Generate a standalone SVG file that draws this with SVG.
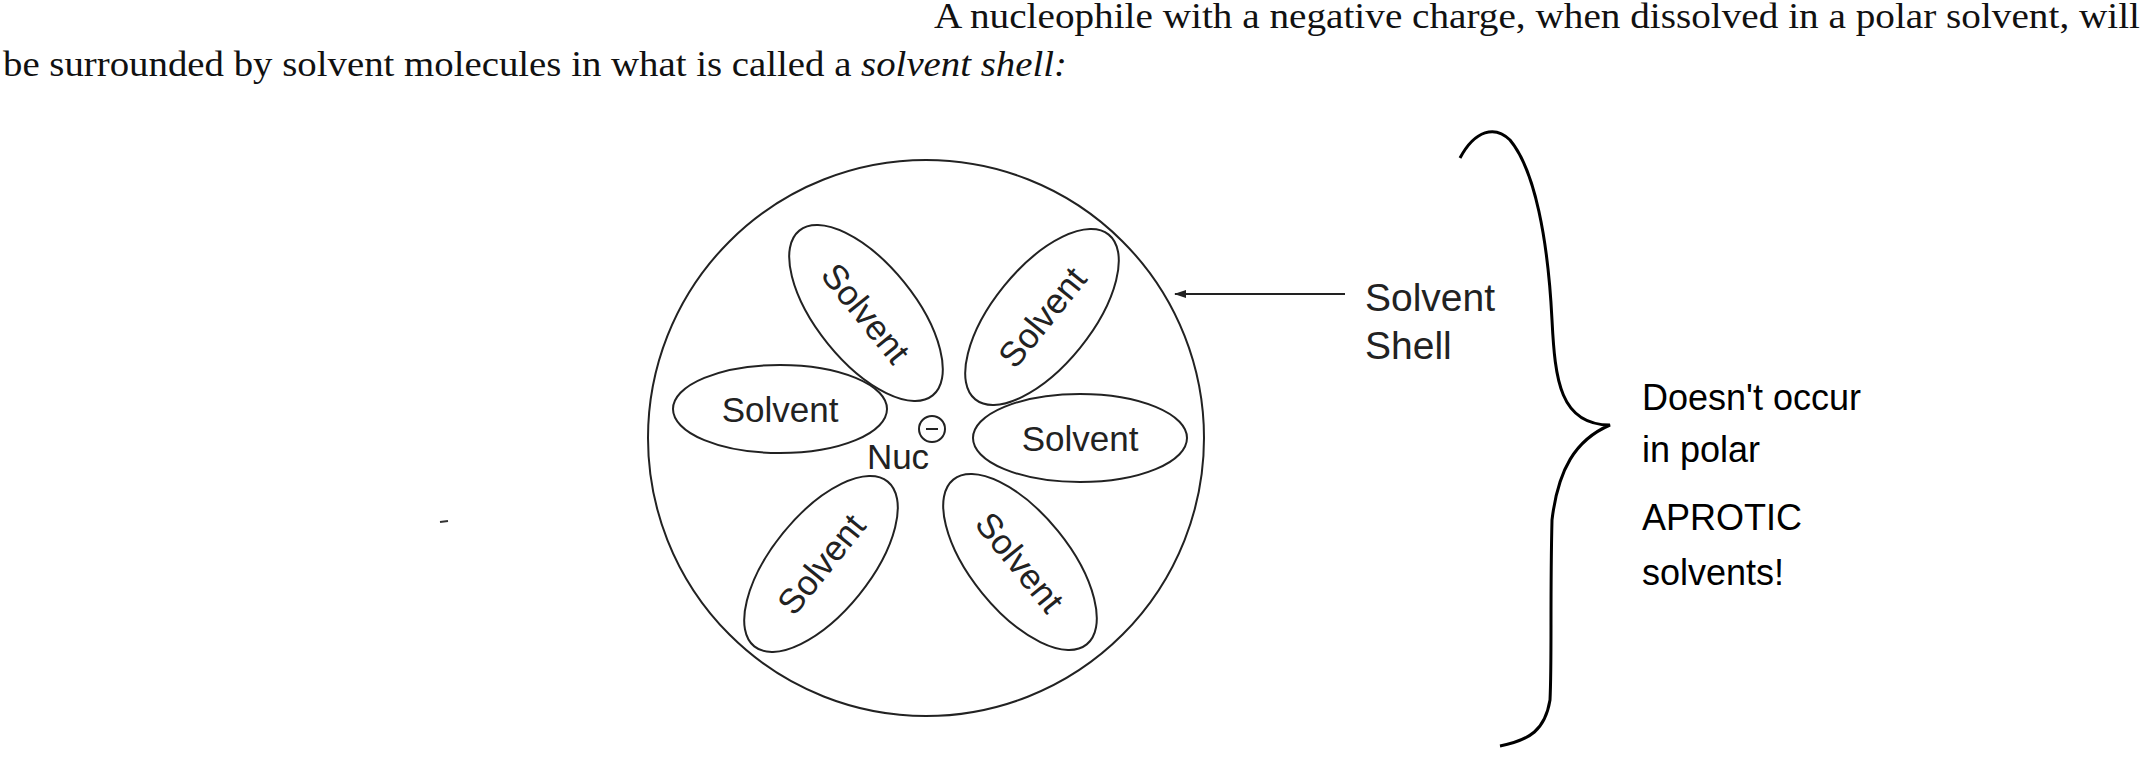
<svg xmlns="http://www.w3.org/2000/svg" width="2145" height="758" viewBox="0 0 2145 758">
<defs>
<style>
.s{fill:none;stroke:#222;stroke-width:2}
.t{font-family:"Liberation Sans",Arial,sans-serif;font-size:35px;fill:#222;text-anchor:middle;dominant-baseline:central}
.l{font-family:"Liberation Sans",Arial,sans-serif;font-size:39px;fill:#222}
.b{font-family:"Liberation Serif","Times New Roman",serif;font-size:36px;fill:#111}
.h{font-family:"Liberation Sans",sans-serif;font-size:36px;fill:#000}
</style>
<marker id="ar" markerWidth="12" markerHeight="8" refX="11" refY="4" orient="auto" markerUnits="userSpaceOnUse"><path d="M0,0 L12,4 L0,8 Z" fill="#222"/></marker>
</defs>
<rect width="2145" height="758" fill="#fff"/>
<text class="b" x="934" y="28" textLength="1206" lengthAdjust="spacingAndGlyphs">A nucleophile with a negative charge, when dissolved in a polar solvent, will</text>
<text class="b" x="3" y="76" textLength="1064" lengthAdjust="spacingAndGlyphs">be surrounded by solvent molecules in what is called a <tspan font-style="italic">solvent shell:</tspan></text>
<line x1="440" y1="522" x2="448" y2="521" stroke="#333" stroke-width="2"/>
<g id="shell"><circle class="s" cx="926" cy="438" r="278"/></g>
<g id="s1" transform="translate(780,409)"><ellipse class="s" rx="107" ry="44"/><text class="t">Solvent</text></g>
<g id="s2" transform="translate(1080,438)"><ellipse class="s" rx="107" ry="44"/><text class="t">Solvent</text></g>
<g id="s3" transform="translate(866,313) rotate(51)"><ellipse class="s" rx="106" ry="49"/><text class="t">Solvent</text></g>
<g id="s4" transform="translate(1042,317) rotate(-51)"><ellipse class="s" rx="106" ry="49"/><text class="t">Solvent</text></g>
<g id="s5" transform="translate(821,564) rotate(-51)"><ellipse class="s" rx="106" ry="49"/><text class="t">Solvent</text></g>
<g id="s6" transform="translate(1020,562) rotate(51)"><ellipse class="s" rx="106" ry="49"/><text class="t">Solvent</text></g>
<g id="nuc"><text class="t" x="898" y="456">Nuc</text><circle class="s" cx="932" cy="429" r="13"/><line x1="926" y1="429" x2="938" y2="429" stroke="#222" stroke-width="2"/></g>
<g id="connectors"><line x1="1345" y1="294" x2="1175" y2="294" stroke="#222" stroke-width="2" marker-end="url(#ar)"/></g>
<g id="label"><text class="l" x="1365" y="311">Solvent</text><text class="l" x="1365" y="359">Shell</text></g>
<g id="brace"><path d="M1460,158 C1475,130 1495,125 1510,140 C1535,170 1548,240 1552,320 C1555,380 1560,425 1610,425 C1575,440 1558,470 1552,520 C1550,600 1552,660 1550,700 C1545,730 1530,740 1500,746" fill="none" stroke="#000" stroke-width="3"/></g>
<g id="note">
<text class="h" x="1642" y="410">Doesn't occur</text>
<text class="h" x="1642" y="462">in polar</text>
<text class="h" x="1642" y="530">APROTIC</text>
<text class="h" x="1642" y="585">solvents!</text>
</g>
</svg>
